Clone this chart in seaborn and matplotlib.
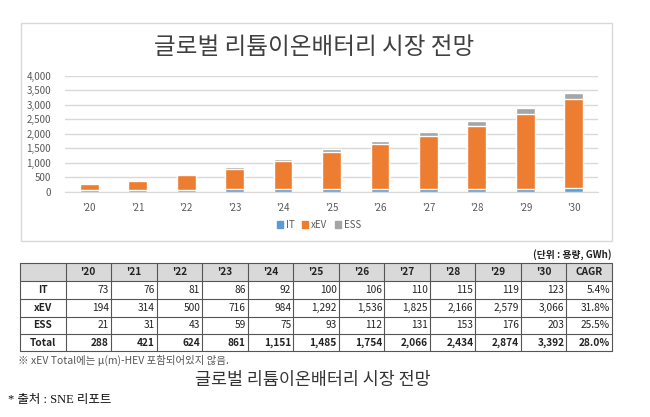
import matplotlib
matplotlib.use('Agg')
import matplotlib.pyplot as plt
import matplotlib.patches as mpatches
from matplotlib.ticker import FuncFormatter
import pandas as pd
import seaborn as sns

# 데이터 (단위: GWh)
years = ["'20", "'21", "'22", "'23", "'24", "'25", "'26", "'27", "'28", "'29", "'30"]
it_vals = [73, 76, 81, 86, 92, 100, 106, 110, 115, 119, 123]
xev_vals = [194, 314, 500, 716, 984, 1292, 1536, 1825, 2166, 2579, 3066]
ess_vals = [21, 31, 43, 59, 75, 93, 112, 131, 153, 176, 203]
total_vals = [288, 421, 624, 861, 1151, 1485, 1754, 2066, 2434, 2874, 3392]
cagr = ['5.4%', '31.8%', '25.5%', '28.0%']
series_names = ['IT', 'xEV', 'ESS']

colors = {'IT': '#5B9BD5', 'xEV': '#ED7D31', 'ESS': '#A5A5A5'}

sns.set_style('white')
plt.rcParams['font.family'] = ['Noto Sans CJK KR', 'DejaVu Sans']

W, H = 650, 417
fig = plt.figure(figsize=(W / 100, H / 100), dpi=100)

# 배경용 축 (픽셀 좌표)
bg = fig.add_axes([0, 0, 1, 1])
bg.set_xlim(0, W)
bg.set_ylim(H, 0)
bg.axis('off')

# 차트 테두리
bg.add_patch(mpatches.Rectangle((21, 23), 591, 218, fill=False,
                                edgecolor='#D9D9D9', linewidth=1))
bg.text(314, 47, '글로벌 리튬이온배터리 시장 전망', ha='center', va='center',
        fontsize=17, color='#404040')

# 누적 막대 그래프
ax = fig.add_axes([65 / W, 1 - 192 / H, (598 - 65) / W, (192 - 75.7) / H])
df = pd.DataFrame({'year': years, 'IT': it_vals, 'xEV': xev_vals, 'ESS': ess_vals})
df['top'] = df['IT'] + df['xEV'] + df['ESS']
df['mid'] = df['IT'] + df['xEV']

sns.barplot(data=df, x='year', y='top', color=colors['ESS'], width=0.39,
            saturation=1, ax=ax, zorder=3)
sns.barplot(data=df, x='year', y='mid', color=colors['xEV'], width=0.39,
            saturation=1, ax=ax, zorder=3)
sns.barplot(data=df, x='year', y='IT', color=colors['IT'], width=0.39,
            saturation=1, ax=ax, zorder=3)

ax.set_ylim(0, 4000)
ax.set_yticks(range(0, 4001, 500))
ax.yaxis.set_major_formatter(FuncFormatter(lambda v, p: f'{int(v):,}'))
ax.grid(axis='y', color='#D9D9D9', linewidth=1, zorder=0)
ax.set_axisbelow(True)
for s in ['top', 'right', 'left']:
    ax.spines[s].set_visible(False)
ax.spines['bottom'].set_color('#D9D9D9')
ax.tick_params(axis='both', length=0, labelsize=7, colors='#595959')
ax.tick_params(axis='x', pad=8)
ax.tick_params(axis='y', pad=10)
ax.set_xlabel('')
ax.set_ylabel('')

handles = [mpatches.Patch(color=colors[n], label=n) for n in series_names]
fig.legend(handles=handles, loc='center', bbox_to_anchor=(319 / W, 1 - 225 / H),
           ncol=3, frameon=False, fontsize=7, handlelength=0.6, handleheight=0.6,
           handletextpad=0.3, columnspacing=0.8, labelcolor='#595959')

# 표
bg.text(612, 255, '(단위 : 용량, GWh)', ha='right', va='center', fontsize=7,
        fontweight='bold', color='#222222')

header = [''] + years + ['CAGR']
rows = [
    ['IT'] + [f'{v:,}' for v in it_vals] + [cagr[0]],
    ['xEV'] + [f'{v:,}' for v in xev_vals] + [cagr[1]],
    ['ESS'] + [f'{v:,}' for v in ess_vals] + [cagr[2]],
    ['Total'] + [f'{v:,}' for v in total_vals] + [cagr[3]],
]
x0, x1 = 20, 612
col_w = (x1 - x0) / len(header)
row_y = [263, 281, 299, 317, 334, 351]

bg.add_patch(mpatches.Rectangle((x0, row_y[0]), x1 - x0, row_y[1] - row_y[0],
                                facecolor='#D9D9D9', edgecolor='none'))
for y in row_y:
    bg.plot([x0, x1], [y, y], color='#555555', linewidth=0.8)
for i in range(len(header) + 1):
    bg.plot([x0 + i * col_w] * 2, [row_y[0], row_y[-1]], color='#555555', linewidth=0.8)

fs = 7.3
for j, h in enumerate(header):
    bg.text(x0 + (j + 0.5) * col_w, (row_y[0] + row_y[1]) / 2, h, ha='center',
            va='center', fontsize=fs, fontweight='bold', color='#222222')
for i, r in enumerate(rows):
    yc = (row_y[i + 1] + row_y[i + 2]) / 2
    bold = r[0] == 'Total'
    for j, cell in enumerate(r):
        if j == 0:
            bg.text(x0 + 0.5 * col_w, yc, cell, ha='center', va='center',
                    fontsize=fs, fontweight='bold', color='#222222')
        else:
            bg.text(x0 + (j + 1) * col_w - 2, yc, cell, ha='right', va='center',
                    fontsize=fs, fontweight='bold' if bold else 'normal',
                    color='#222222')

bg.text(18, 360, '※ xEV Total에는 μ(m)-HEV 포함되어있지 않음.', ha='left', va='center',
        fontsize=7.5, color='#555555')
bg.text(313, 380, '글로벌 리튬이온배터리 시장 전망', ha='center', va='center',
        fontsize=12.5, fontweight='light', color='#333333')
bg.text(8, 400, '* 출처 : SNE 리포트', ha='left', va='center', fontsize=9,
        color='#111111', family=['Liberation Serif', 'Noto Sans CJK KR'])

fig.savefig('out.png', dpi=100, facecolor='white')
